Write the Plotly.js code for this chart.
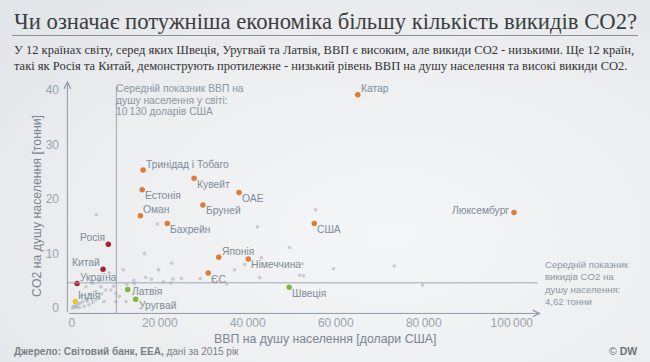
<!DOCTYPE html>
<html>
<head>
<meta charset="utf-8">
<script src="https://cdn.plot.ly/plotly-3.0.1.min.js"></script>
<style>
html,body{margin:0;padding:0;}
body{width:650px;height:362px;overflow:hidden;background:radial-gradient(ellipse at 60% 65%, #f5f6f7 0%, #eceef0 55%, #e1e4e8 100%);}
#chart{width:650px;height:362px;}
</style>
</head>
<body>
<div id="chart"></div>
<script>
// ---- data (GDP per capita, USD; CO2 per capita, tonnes) ----
const highNames = ['Катар','Люксембург','Тринідад і Тобаго','Кувейт','Естонія','ОАЕ','Бруней','Оман','Бахрейн','США','Японія','Німеччина','ЄС'];
const highGdp   = [65000,100500,16200,27800,16000,38000,29800,15600,21700,55100,33400,40100,31000];
const highCo2   = [39.1,17.5,25.3,23.8,21.7,21.2,18.9,16.9,15.5,15.5,9.3,9.0,6.4];

const lowGdpNames = ['Росія','Китай','Україна'];
const lowGdpGdp   = [8300,7100,1200];
const lowGdpCo2   = [11.7,7.1,4.5];

const indiaNames = ['Індія'];
const indiaGdp   = [800];
const indiaCo2   = [1.2];

const greenNames = ['Швеція','Латвія','Уругвай'];
const greenGdp   = [49400,12700,14500];
const greenCo2   = [3.8,3.4,1.6];

const otherGdp = [55400,42200,49500,52400,59500,42700,51800,37000,39300,23000,24900,29200,35200,43100,73300,79700,5600,19500,16500,22700,11700,19700,16800,22500,12500,14200,8500,6600,7700,5500,4300,3200,6200,7300,10000,10800,12300,2000,900,200,1700,2800,3900,5500,8900,10000,3200,4700,6200,14100,18100,20800,52700,1000,500,1500,2500,600,1200,300,4800,3500,2200,6800,9500];
const otherCo2 = [18.0,14.9,11.1,8.1,7.2,5.6,6.0,7.0,8.0,5.3,5.4,5.4,4.4,9.2,7.7,4.2,17.1,15.4,10.0,8.2,7.0,7.0,5.6,4.6,4.3,4.5,6.4,3.9,3.3,3.0,2.4,1.8,1.8,1.2,1.2,2.1,1.2,0.9,0.2,0.05,0.1,0.3,0.6,1.5,3.3,2.7,3.9,4.5,5.1,5.1,5.3,4.8,5.9,0.5,0.3,0.8,1.2,0.1,0.3,0.2,1.0,1.3,2.2,2.6,4.0];

const worldGdp = 10130;
const worldCo2 = 4.62;

const xTickVals = [0,20000,40000,60000,80000,100000];
const xTickText = ['0','20\u2009000','40\u2009000','60\u2009000','80\u2009000','100\u2009000'];
const yTickVals = [0,10,20,30,40];

// ---- label placement (style only) ----
const labelPlace = {
  'Катар':'ur','Люксембург':'l','Тринідад і Тобаго':'ur','Кувейт':'dr','Естонія':'dr','ОАЕ':'dr',
  'Бруней':'dr','Оман':'ur','Бахрейн':'dr','США':'dr','Японія':'ur','Німеччина':'dr','ЄС':'dr',
  'Росія':'ul','Китай':'ul','Україна':'ur','Індія':'ur','Швеція':'dr','Латвія':'r','Уругвай':'dr'
};

// ---- geometry helpers ----
const PL=63, PW=484, PT=79, PH=235;
const px = v => (v-PL)/PW;
const py = v => (PT+PH-v)/PH;

const labelColor = '#7f8b98';
const sans = 'Liberation Sans, Arial, sans-serif';
const serif = 'Liberation Serif, Times New Roman, serif';

function mk(x,y,color,size,names){
  return {type:'scatter',mode:'markers',x:x,y:y,text:names,hoverinfo:'text',cliponaxis:false,
    marker:{color:color,size:size,line:{width:0}},showlegend:false};
}
const traces = [
  mk(otherGdp,otherCo2,'rgba(180,187,197,0.7)',3.6,null),
  mk(highGdp,highCo2,'#e27a35',5.5,highNames),
  mk(lowGdpGdp,lowGdpCo2,'#b01f32',5.5,lowGdpNames),
  mk(indiaGdp,indiaCo2,'#f0c22e',5.5,indiaNames),
  mk(greenGdp,greenCo2,'#83b53a',5.5,greenNames)
];

const annotations = [];
function addLabels(names,xs,ys){
  names.forEach((n,i)=>{
    const p = labelPlace[n];
    const a = {x:xs[i],y:ys[i],xref:'x',yref:'y',text:n,showarrow:false,
      font:{family:sans,size:10.3,color:labelColor},yanchor:'middle'};
    if(p==='ur'){a.xanchor='left';a.xshift=1;a.yshift=6;}
    else if(p==='dr'){a.xanchor='left';a.xshift=1;a.yshift=-6;}
    else if(p==='l'){a.xanchor='right';a.xshift=-3;a.yshift=2;}
    else if(p==='ul'){a.xanchor='right';a.xshift=-1;a.yshift=7;}
    else if(p==='r'){a.xanchor='left';a.xshift=2;a.yshift=-2;}
    annotations.push(a);
  });
}
addLabels(highNames,highGdp,highCo2);
addLabels(lowGdpNames,lowGdpGdp,lowGdpCo2);
addLabels(indiaNames,indiaGdp,indiaCo2);
addLabels(greenNames,greenGdp,greenCo2);

function txt(xp,yp,text,opts){
  const a = Object.assign({x:px(xp),y:py(yp),xref:'paper',yref:'paper',text:text,showarrow:false,
    xanchor:'left',yanchor:'middle',font:{family:sans,size:10.3,color:'#8d96a1'}},opts||{});
  annotations.push(a);
}
// title & subtitle
txt(12,21,'Чи означає потужніша економіка більшу кількість викидів CO2?',{font:{family:serif,size:22.7,color:'#3b3d40'}});
txt(12,50,'У 12 країнах світу, серед яких Швеція, Уругвай та Латвія, ВВП є високим, але викиди CO2 - низькими. Ще 12 країн,',{font:{family:serif,size:12.5,color:'#333'}});
txt(12,66,'такі як Росія та Китай, демонструють протилежне - низький рівень ВВП на душу населення та високі викиди CO2.',{font:{family:serif,size:12.5,color:'#333'}});
// mean annotations
txt(114,89,'Середній показник ВВП на');
txt(114,100,'душу населення у світі:');
txt(114,111,'10\u2009130 доларів США');
txt(543,283,'Середній показник<br>викидів CO2 на<br>душу населення:<br>4,62 тонни',{align:'left',font:{family:sans,size:9.6,color:'#8d96a1'}});
// axis titles
txt(325,339,'ВВП на душу населення [долари США]',{xanchor:'center',font:{family:sans,size:12.3,color:'#7b8591'}});
txt(37,206,'CO2 на душу населення [тонни]',{xanchor:'center',textangle:-90,font:{family:sans,size:12.3,color:'#7b8591'}});
// source
txt(12,351,'<b>Джерело: Світовий банк, EEA,</b> дані за 2015 рік',{font:{family:sans,size:10,color:'#7a7f86'}});
txt(639,351,'© <b>DW</b>',{xanchor:'right',font:{family:sans,size:10.5,color:'#6d7278'}});

// axis arrows
const axisCol = '#8f9aa6';
annotations.push({x:106600,y:-1,ax:-1000,ay:-1,xref:'x',yref:'y',axref:'x',ayref:'y',showarrow:true,
  arrowhead:5,arrowsize:1.3,arrowwidth:1,arrowcolor:axisCol,text:''});
annotations.push({x:-1000,y:41.7,ax:-1000,ay:-1,xref:'x',yref:'y',axref:'x',ayref:'y',showarrow:true,
  arrowhead:5,arrowsize:1.3,arrowwidth:1,arrowcolor:axisCol,text:''});

const shapes = [
  {type:'line',xref:'paper',yref:'paper',x0:px(12),x1:px(638),y0:py(35.5),y1:py(35.5),line:{color:'#8c8f93',width:1}},
  {type:'line',xref:'x',yref:'y',x0:worldGdp,x1:worldGdp,y0:-1,y1:40.6,line:{color:'#9ea7b1',width:1}},
  {type:'line',xref:'x',yref:'y',x0:-1000,x1:105900,y0:worldCo2,y1:worldCo2,line:{color:'#9ea7b1',width:1}}
];

const layout = {
  width:650,height:362,
  margin:{l:PL,r:650-PL-PW,t:PT,b:362-PT-PH,pad:0},
  paper_bgcolor:'rgba(0,0,0,0)',plot_bgcolor:'rgba(0,0,0,0)',
  showlegend:false,
  xaxis:{range:[-2000,108000],showgrid:false,zeroline:false,showline:false,ticks:'',
    tickvals:xTickVals,ticktext:xTickText,tickfont:{family:sans,size:12,color:'#9aa3ad'},fixedrange:true},
  yaxis:{range:[-1.1,42],showgrid:false,zeroline:false,showline:false,ticks:'',
    tickvals:yTickVals,tickfont:{family:sans,size:12,color:'#9aa3ad'},ticklabelstandoff:3,fixedrange:true},
  shapes:shapes,annotations:annotations
};
Plotly.newPlot('chart',traces,layout,{displayModeBar:false,staticPlot:true});
</script>
</body>
</html>
